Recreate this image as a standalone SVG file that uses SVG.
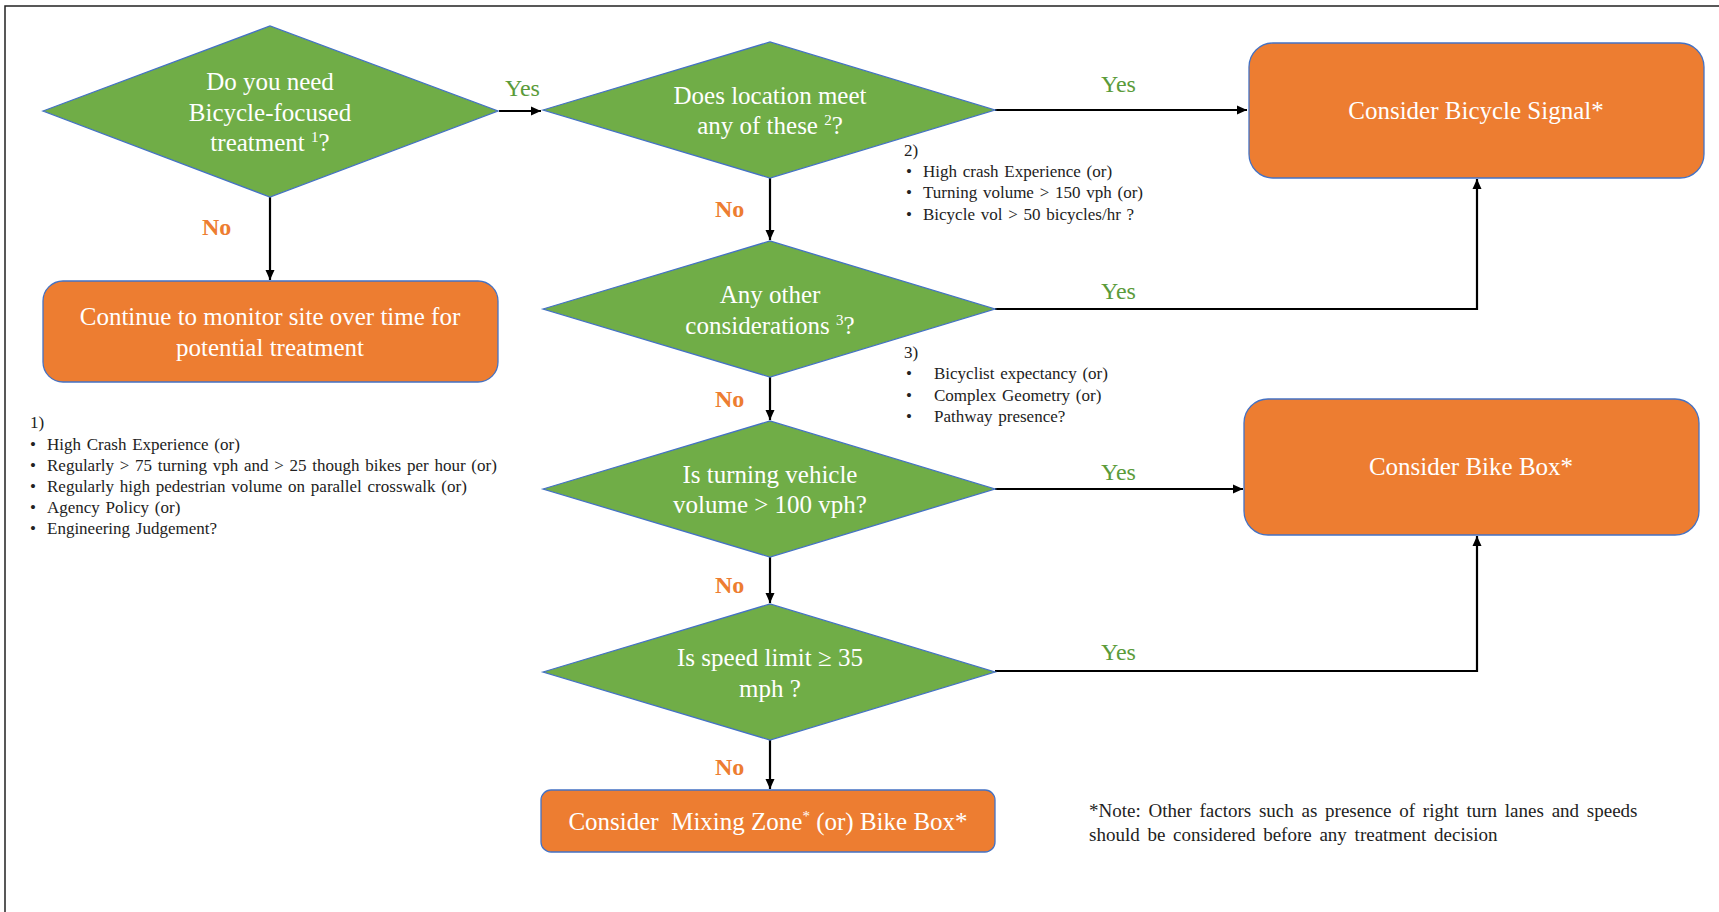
<svg xmlns="http://www.w3.org/2000/svg" width="1719" height="912" viewBox="0 0 1719 912">
<style>
.bg{fill:#ffffff}
.frame{fill:none;stroke:#222;stroke-width:1.5}
.dia{fill:#70AD47;stroke:#4472C4;stroke-width:1.3}
.box{fill:#ED7D31;stroke:#4472C4;stroke-width:1.3}
.wt{font-family:"Liberation Serif","Times New Roman",serif;font-size:25px;fill:#ffffff;text-anchor:middle}
.yes{font-family:"Liberation Serif","Times New Roman",serif;font-size:24px;fill:#5B9B3A}
.no{font-family:"Liberation Serif","Times New Roman",serif;font-size:24px;font-weight:bold;fill:#ED7D31}
.note{font-family:"Liberation Serif","Times New Roman",serif;font-size:17px;fill:#222;word-spacing:1.5px}
.note2{font-family:"Liberation Serif","Times New Roman",serif;font-size:19px;fill:#222;word-spacing:3px}
.sup{font-size:15px}
.conn{fill:none;stroke:#000;stroke-width:2.2}
</style>
<defs>
<marker id="arr" markerUnits="userSpaceOnUse" markerWidth="12" markerHeight="10" refX="10" refY="5" orient="auto">
<path d="M0,0.5 L10,5 L0,9.5 Z" fill="#000"/>
</marker>
</defs>
<rect class="bg" x="0" y="0" width="1719" height="912"/>
<path class="frame" d="M5,912 V6 H1719"/>

<g id="connectors">
<path class="conn" d="M499,111 H541" marker-end="url(#arr)"/>
<path class="conn" d="M270,197 V280" marker-end="url(#arr)"/>
<path class="conn" d="M995,110 H1247" marker-end="url(#arr)"/>
<path class="conn" d="M770,178 V240" marker-end="url(#arr)"/>
<path class="conn" d="M995,309 H1477 V179" marker-end="url(#arr)"/>
<path class="conn" d="M770,377 V420" marker-end="url(#arr)"/>
<path class="conn" d="M995,489 H1243" marker-end="url(#arr)"/>
<path class="conn" d="M770,557 V603" marker-end="url(#arr)"/>
<path class="conn" d="M995,671 H1477 V536" marker-end="url(#arr)"/>
<path class="conn" d="M770,740 V789" marker-end="url(#arr)"/>
<text class="yes" x="505" y="96">Yes</text>
<text class="no" x="202" y="235">No</text>
<text class="yes" x="1101" y="92">Yes</text>
<text class="no" x="715" y="217">No</text>
<text class="yes" x="1101" y="299">Yes</text>
<text class="no" x="715" y="407">No</text>
<text class="yes" x="1101" y="480">Yes</text>
<text class="no" x="715" y="593">No</text>
<text class="yes" x="1101" y="660">Yes</text>
<text class="no" x="715" y="775">No</text>
</g>

<g id="q1">
<polygon class="dia" points="43,111 270,26 498,111 270,197"/>
<text class="wt" x="270" y="90">Do you need</text>
<text class="wt" x="270" y="121">Bicycle-focused</text>
<text class="wt" x="270" y="151">treatment <tspan class="sup" dy="-9">1</tspan><tspan dy="9">?</tspan></text>
</g>

<g id="monitor">
<rect class="box" x="43" y="281" width="455" height="101" rx="20"/>
<text class="wt" x="270" y="325">Continue to monitor site over time for</text>
<text class="wt" x="270" y="356">potential treatment</text>
</g>

<g id="q2">
<polygon class="dia" points="543,110 770,42 995,110 770,178"/>
<text class="wt" x="770" y="104">Does location meet</text>
<text class="wt" x="770" y="134">any of these <tspan class="sup" dy="-9">2</tspan><tspan dy="9">?</tspan></text>
</g>

<g id="q3">
<polygon class="dia" points="543,309 770,241 995,309 770,377"/>
<text class="wt" x="770" y="303">Any other</text>
<text class="wt" x="770" y="334">considerations <tspan class="sup" dy="-9">3</tspan><tspan dy="9">?</tspan></text>
</g>

<g id="q4">
<polygon class="dia" points="543,489 770,421 995,489 770,557"/>
<text class="wt" x="770" y="483">Is turning vehicle</text>
<text class="wt" x="770" y="513">volume &gt; 100 vph?</text>
</g>

<g id="q5">
<polygon class="dia" points="543,672 770,604 995,672 770,740"/>
<text class="wt" x="770" y="666">Is speed limit ≥ 35</text>
<text class="wt" x="770" y="697">mph ?</text>
</g>

<g id="signal">
<rect class="box" x="1249" y="43" width="455" height="135" rx="24"/>
<text class="wt" x="1476" y="119">Consider Bicycle Signal*</text>
</g>

<g id="bikebox">
<rect class="box" x="1244" y="399" width="455" height="136" rx="24"/>
<text class="wt" x="1471" y="475">Consider Bike Box*</text>
</g>

<g id="mixing">
<rect class="box" x="541" y="790" width="454" height="62" rx="10"/>
<text class="wt" x="768" y="830" xml:space="preserve">Consider  Mixing Zone<tspan class="sup" dy="-9">*</tspan><tspan dy="9"> (or) Bike Box*</tspan></text>
</g>

<g id="note1">
<text class="note" x="30" y="428">1)</text>
<text class="note" x="30" y="450">•</text><text class="note" x="47" y="450">High Crash Experience (or)</text>
<text class="note" x="30" y="471">•</text><text class="note" x="47" y="471">Regularly &gt; 75 turning vph and &gt; 25 though bikes per hour (or)</text>
<text class="note" x="30" y="492">•</text><text class="note" x="47" y="492">Regularly high pedestrian volume on parallel crosswalk (or)</text>
<text class="note" x="30" y="513">•</text><text class="note" x="47" y="513">Agency Policy (or)</text>
<text class="note" x="30" y="534">•</text><text class="note" x="47" y="534">Engineering Judgement?</text>
</g>

<g id="note2">
<text class="note" x="904" y="156">2)</text>
<text class="note" x="906" y="177">•</text><text class="note" x="923" y="177">High crash Experience (or)</text>
<text class="note" x="906" y="198">•</text><text class="note" x="923" y="198">Turning volume &gt; 150 vph (or)</text>
<text class="note" x="906" y="220">•</text><text class="note" x="923" y="220">Bicycle vol &gt; 50 bicycles/hr ?</text>
</g>

<g id="note3">
<text class="note" x="904" y="358">3)</text>
<text class="note" x="906" y="379">•</text><text class="note" x="934" y="379">Bicyclist expectancy (or)</text>
<text class="note" x="906" y="401">•</text><text class="note" x="934" y="401">Complex Geometry (or)</text>
<text class="note" x="906" y="422">•</text><text class="note" x="934" y="422">Pathway presence?</text>
</g>

<g id="note4">
<text class="note2" x="1089" y="817">*Note: Other factors such as presence of right turn lanes and speeds</text>
<text class="note2" x="1089" y="841">should be considered before any treatment decision</text>
</g>
</svg>
